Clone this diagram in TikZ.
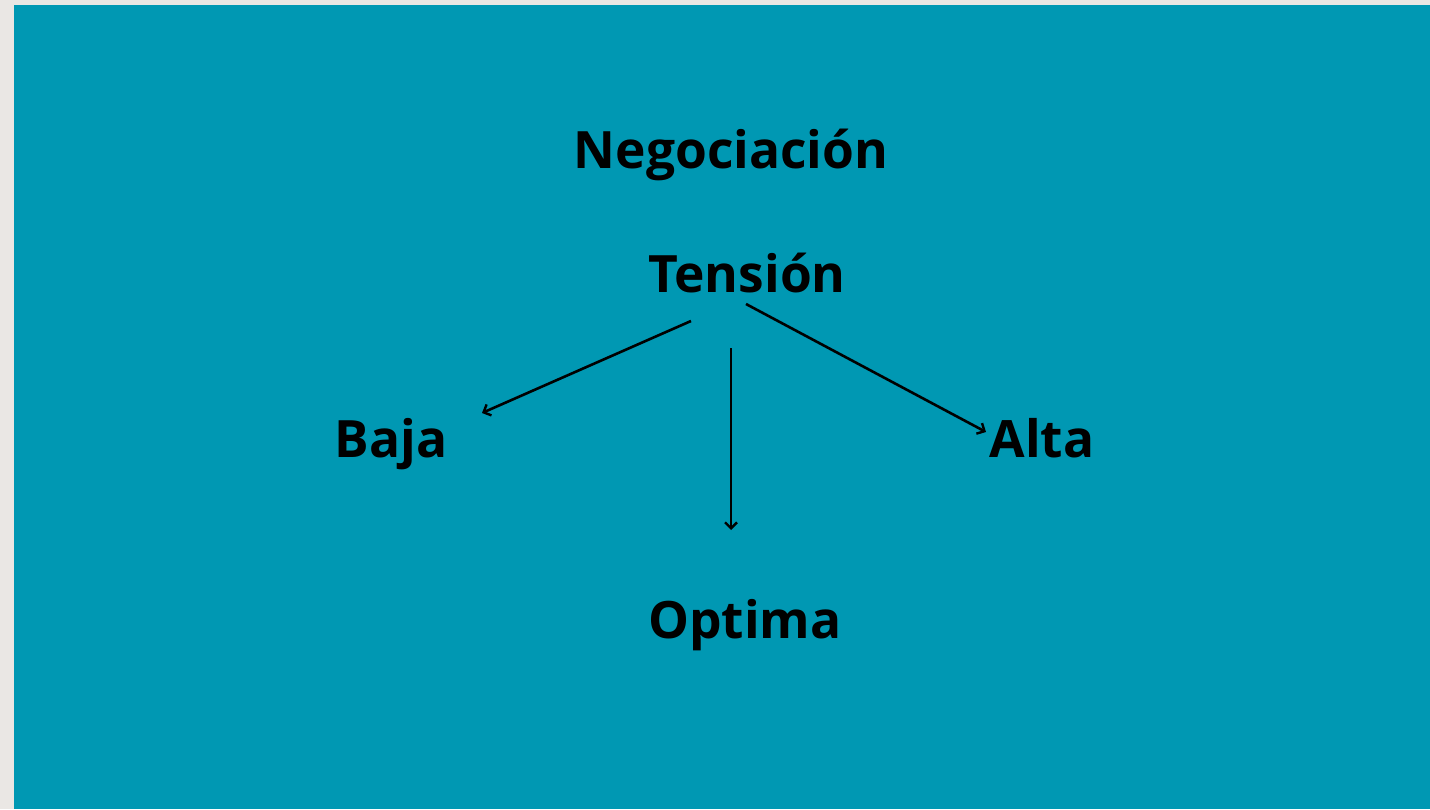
\documentclass[tikz,border=0pt]{standalone}
\usepackage{fontspec}
\setmainfont{Open Sans}
\usetikzlibrary{arrows.meta}
\definecolor{pagegrey}{HTML}{EAE7E4}
\definecolor{tealbg}{HTML}{0098B3}

\begin{document}
\begin{tikzpicture}[x=1pt, y=-1pt,
  word/.style={font=\fontsize{51.5}{60}\selectfont\bfseries, text=black, inner sep=0pt, anchor=base},
  arr/.style={-{Straight Barb[length=6pt, width=12pt, line width=2.4pt]}, line width=2.6pt}]
 % Background
	\fill[pagegrey] (0,0) rectangle (1430,809);
	\fill[tealbg] (14,5) rectangle (1430,809);
 %Nodes
	\node[word] (nego) at (731,168) {Negociación};
	\node[word] (tension) at (747,292) {Tensión};
	\node[word] (baja) at (391,457) {Baja};
	\node[word] (alta) at (1042,457) {Alta};
	\node[word] (optima) at (745,638) {Optima};
	\coordinate (tl) at (691,321);
	\coordinate (tm) at (731,348);
	\coordinate (tr) at (746,304);
	\coordinate (bl) at (482,413);
	\coordinate (om) at (731,530);
	\coordinate (ar) at (986,432);
	% Arrows
	\draw[arr] (tl) -- (bl);
	\draw[arr] (tm) -- (om);
	\draw[arr] (tr) -- (ar);
\end{tikzpicture}
\end{document}
